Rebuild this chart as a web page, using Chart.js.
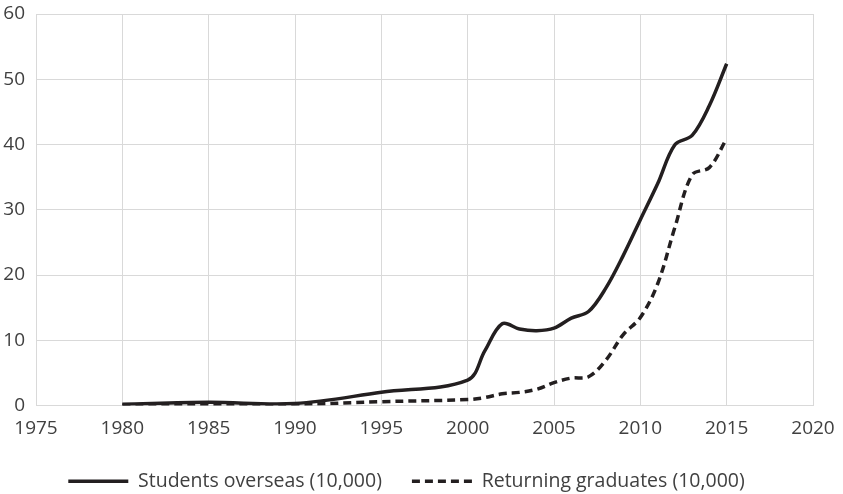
<!DOCTYPE html>
<html>
<head>
<meta charset="utf-8">
<script src="https://cdn.jsdelivr.net/npm/chart.js@4.4.1/dist/chart.umd.min.js"></script>
<style>
    html, body { margin: 0; padding: 0; background: #fff; }
    #wrap { width: 843px; height: 494px; }
</style>
</head>
<body>
<div id="wrap"><canvas id="chart"></canvas></div>
<script>
// years with data points (5-year steps before 2000, yearly after)
const years = [1980, 1985, 1990, 1995, 2000, 2001, 2002, 2003, 2004, 2005, 2006, 2007, 2008, 2009, 2010, 2011, 2012, 2013, 2014, 2015];
const studentsOverseas = [0.21, 0.49, 0.30, 2.04, 3.90, 8.40, 12.52, 11.73, 11.47, 11.85, 13.40, 14.40, 17.98, 22.93, 28.47, 33.97, 39.96, 41.39, 45.98, 52.37];
const returningGraduates = [0.02, 0.14, 0.16, 0.58, 0.91, 1.22, 1.79, 2.01, 2.49, 3.50, 4.20, 4.40, 6.93, 10.83, 13.48, 18.62, 27.29, 35.35, 36.48, 40.91];
const seriesLabels = ['Students overseas (10,000)', 'Returning graduates (10,000)'];
const xRange = [1975, 2020];
const yRange = [0, 60];

const textColor = '#404040';
const gridColor = '#d9d9d9';
const lineColor = '#231f20';
const fontFamily = 'Open Sans';

function toPoints(values) {
    return years.map((year, i) => ({ x: year, y: values[i] }));
}

const ctx = document.getElementById('chart').getContext('2d');
const chart = new Chart(ctx, {
    type: 'line',
    data: {
        datasets: [{
            label: seriesLabels[0],
            data: toPoints(studentsOverseas),
            borderColor: lineColor,
            backgroundColor: lineColor,
            borderWidth: 3.5,
            pointRadius: 0,
            tension: 0.35,
            fill: false
        }, {
            label: seriesLabels[1],
            data: toPoints(returningGraduates),
            borderColor: lineColor,
            backgroundColor: lineColor,
            borderWidth: 3.5,
            borderDash: [8, 5],
            pointRadius: 0,
            tension: 0.35,
            fill: false
        }]
    },
    options: {
        responsive: true,
        maintainAspectRatio: false,
        animation: false,
        layout: {
            padding: { top: 0, right: 30, bottom: -7, left: 0 }
        },
        plugins: {
            tooltip: { enabled: false },
            legend: {
                position: 'bottom',
                labels: {
                    color: textColor,
                    font: { family: fontFamily, size: 19.5 },
                    usePointStyle: true,
                    pointStyleWidth: 60,
                    padding: 30,
                    generateLabels: function(chart) {
                        const items = Chart.defaults.plugins.legend.labels.generateLabels(chart);
                        items.forEach(item => {
                            const ds = chart.data.datasets[item.datasetIndex];
                            item.pointStyle = 'line';
                            item.lineWidth = 3.5;
                            item.lineDash = ds.borderDash || [];
                        });
                        return items;
                    }
                }
            }
        },
        scales: {
            x: {
                type: 'linear',
                min: xRange[0],
                max: xRange[1],
                grid: { color: gridColor, drawTicks: false },
                border: { color: gridColor },
                afterFit: function(scale) {
                    scale.height = 36;
                    scale.paddingLeft = 0;
                    scale.paddingRight = 0;
                },
                ticks: {
                    stepSize: 5,
                    padding: 12,
                    color: textColor,
                    font: { family: fontFamily, size: 19 },
                    maxRotation: 0,
                    callback: v => String(v)
                }
            },
            y: {
                min: yRange[0],
                max: yRange[1],
                grid: { color: gridColor, drawTicks: false },
                border: { color: gridColor },
                afterFit: function(scale) {
                    scale.width = 36;
                    scale.paddingTop = 14;
                },
                ticks: {
                    stepSize: 10,
                    padding: 11,
                    color: textColor,
                    font: { family: fontFamily, size: 19 }
                }
            }
        }
    }
});
</script>
</body>
</html>
